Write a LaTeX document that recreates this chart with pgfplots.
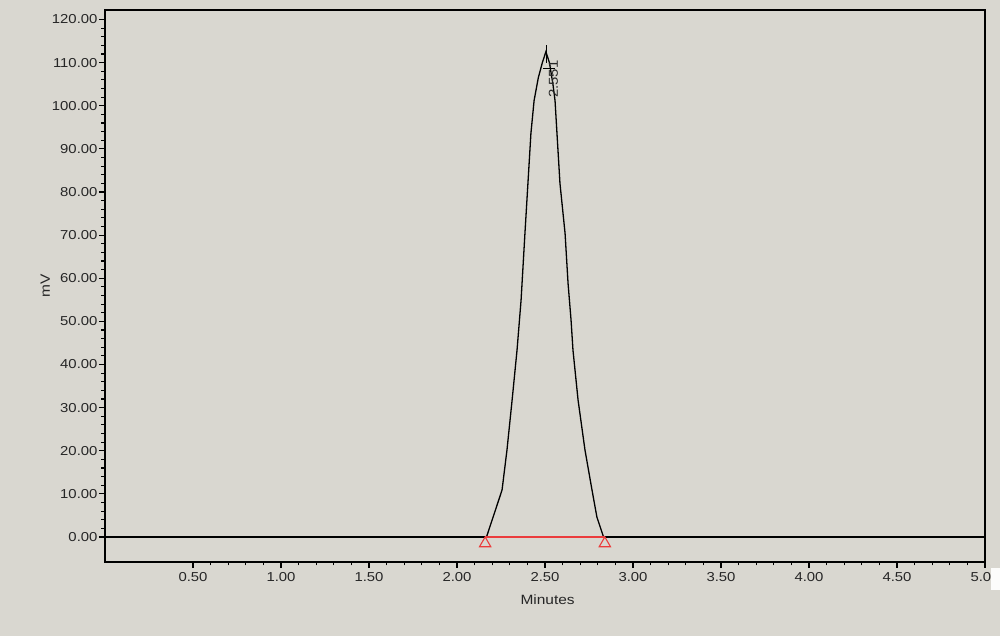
\documentclass[border=0pt]{standalone}
\usepackage{pgfplots}
\pgfplotsset{compat=1.18}
\usepackage{fontspec}
\setmainfont{Liberation Sans}
\newfontfamily\tickfont[FakeStretch=1.15]{Liberation Sans}
\definecolor{bg}{RGB}{217,215,208}
\definecolor{redline}{RGB}{235,60,60}
\begin{document}
\begin{tikzpicture}[x=1bp,y=1bp]
\useasboundingbox (-105,-74) rectangle (895,562);
\fill[bg] (-105,-74) rectangle (895,562);
\begin{axis}[
  at={(0,0)}, anchor=south west,
  scale only axis,
  width=880bp, height=552bp,
  xmin=0, xmax=5, ymin=-5.8, ymax=122.2,
  axis line style={black, line width=1.3bp},
  xtick={0.5,1,1.5,2,2.5,3,3.5,4,4.5,5},
  ytick={0,10,20,30,40,50,60,70,80,90,100,110,120},
  minor x tick num=4, minor y tick num=4,
  xtick pos=bottom, ytick pos=left,
  tick align=outside,
  major tick length=6bp, minor tick length=3.5bp,
  tick style={black, line width=1.1bp},
  /pgf/number format/.cd, fixed, fixed zerofill, precision=2, assume math mode=true,
  /pgfplots/.cd,
  ticklabel style={font=\tickfont\fontsize{13}{15}\selectfont, text=black!85},
  xticklabel style={yshift=-1bp},
  yticklabel style={xshift=2bp},
  xlabel={Minutes}, ylabel={mV},
  label style={font=\tickfont\fontsize{13.5}{15}\selectfont, text=black!85},
  xlabel style={at={(axis description cs:0.503,-0.069)}, anchor=center},
  ylabel style={at={(axis description cs:-0.068,0.5)}, anchor=center, rotate=0},
  clip=false,
]
% baseline
\addplot[black, line width=2.2bp] coordinates {(0,0) (5,0)};
% chromatogram trace
\addplot[black, line width=1.3bp] coordinates {
(0,0) (2.165,0) (2.170,0.3) (2.205,4.6) (2.256,10.9) (2.284,20.2) (2.313,31.7)
(2.341,43.3) (2.364,54.9) (2.386,70.4) (2.403,82.0) (2.420,93.6) (2.438,101.2)
(2.462,106.5) (2.485,110.0) (2.505,112.5) (2.525,110.0) (2.545,105.0)
(2.557,101.2) (2.568,93.6) (2.585,82.0) (2.614,70.4) (2.631,58.8) (2.648,50.3)
(2.659,43.3) (2.688,31.7) (2.727,20.2) (2.767,10.9) (2.795,4.6) (2.830,0.3)
(2.835,0) (5,0)};
% integration baseline
\addplot[redline, line width=2bp] coordinates {(2.16,0.1) (2.84,0.1)};
\addplot[only marks, mark=triangle, mark size=6.5bp, redline, mark options={line width=1.1bp, fill=none}]
  coordinates {(2.16,-1.5) (2.84,-1.5)};
% apex marker
\addplot[black, line width=1.3bp] coordinates {(2.51,110) (2.51,114)};
\addplot[black, line width=1.3bp] coordinates {(2.49,108.6) (2.555,108.6)};
\node[rotate=90, font=\tickfont\fontsize{13}{14}\selectfont, text=black!85, anchor=east, inner sep=0pt]
  at (axis cs:2.548,110.5) {2.551};
\end{axis}
\fill[white!92!bg] (886,-28) rectangle (895,-6);
\end{tikzpicture}
\end{document}
